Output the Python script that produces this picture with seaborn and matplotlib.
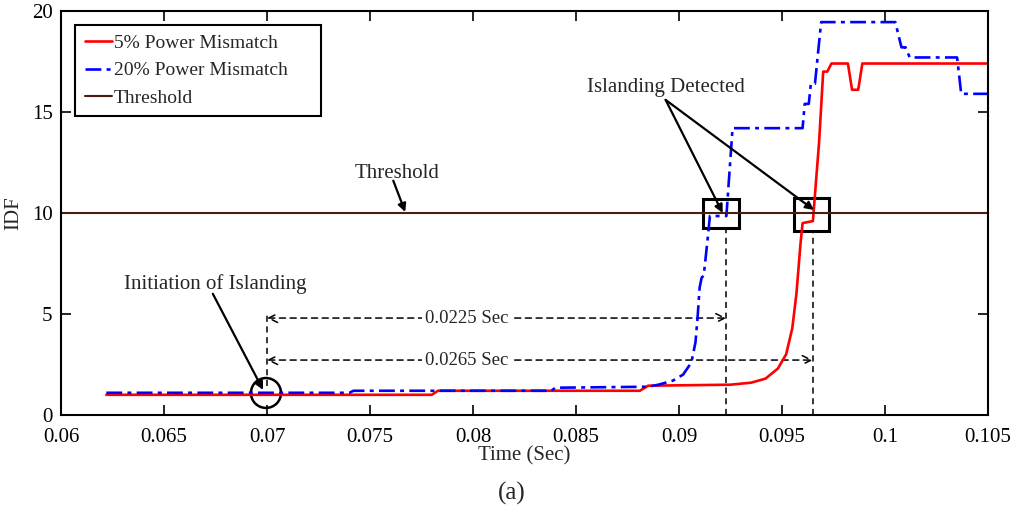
import numpy as np
import pandas as pd
import seaborn as sns
import matplotlib
matplotlib.use("Agg")
import matplotlib.pyplot as plt
from matplotlib.patches import Rectangle, Ellipse, FancyArrowPatch

# ---- data ----
t_5 = [0.0622, 0.0780, 0.0783, 0.0881, 0.0885, 0.0925, 0.0935, 0.0942, 0.0948,
       0.0952, 0.0955, 0.0957, 0.0959, 0.0960, 0.0965, 0.0968, 0.0970, 0.0972,
       0.0974, 0.0982, 0.0984, 0.0987, 0.0989, 0.1050]
idf_5 = [1.0, 1.0, 1.2, 1.2, 1.45, 1.5, 1.6, 1.8, 2.3,
         3.0, 4.3, 6.0, 8.5, 9.5, 9.6, 13.5, 17.0, 17.0,
         17.4, 17.4, 16.1, 16.1, 17.4, 17.4]

t_20 = [0.0622, 0.0740, 0.0742, 0.0838, 0.0840, 0.0885, 0.0890, 0.0897, 0.0902,
        0.0906, 0.0908, 0.0909, 0.0910, 0.0911, 0.0912, 0.0914, 0.0915, 0.0923,
        0.0926, 0.0960, 0.0961, 0.0963, 0.0964, 0.0966, 0.0969, 0.1005, 0.1008,
        0.1010, 0.1012, 0.1035, 0.1037, 0.1050]
idf_20 = [1.1, 1.1, 1.2, 1.2, 1.35, 1.4, 1.5, 1.7, 2.0,
          2.6, 3.6, 4.8, 6.3, 6.8, 6.9, 8.8, 9.85, 9.85,
          14.2, 14.2, 15.4, 15.4, 16.4, 16.4, 19.45, 19.45, 18.2,
          18.2, 17.7, 17.7, 15.9, 15.9]

t_thr = [0.06, 0.105]
idf_thr = [10, 10]

series_names = ["5% Power Mismatch", "20% Power Mismatch", "Threshold"]
x_ticks = [0.06, 0.065, 0.07, 0.075, 0.08, 0.085, 0.09, 0.095, 0.1, 0.105]
x_ticklabels = ["0.06", "0.065", "0.07", "0.075", "0.08", "0.085", "0.09", "0.095", "0.1", "0.105"]
y_ticks = [0, 5, 10, 15, 20]

t_start = 0.07
t_det_20 = 0.0923
t_det_5 = 0.0965
label_20 = "0.0225 Sec"
label_5 = "0.0265 Sec"

# ---- style ----
sns.set_style("ticks")
plt.rcParams["font.family"] = ["Liberation Serif", "DejaVu Serif"]

fig = plt.figure(figsize=(10.14, 5.14), dpi=100)
ax = fig.add_axes([61 / 1014, 1 - 415 / 514, 927 / 1014, 404 / 514])

df5 = pd.DataFrame({"t": t_5, "idf": idf_5})
df20 = pd.DataFrame({"t": t_20, "idf": idf_20})
dft = pd.DataFrame({"t": t_thr, "idf": idf_thr})

sns.lineplot(data=df5, x="t", y="idf", ax=ax, color="#ff0000", linewidth=1.9,
             estimator=None, sort=False, label=series_names[0])
sns.lineplot(data=df20, x="t", y="idf", ax=ax, color="#0000ff", linewidth=1.9,
             estimator=None, sort=False, label=series_names[1])
sns.lineplot(data=dft, x="t", y="idf", ax=ax, color="#4a1c12", linewidth=1.5,
             estimator=None, sort=False, label=series_names[2])
ax.lines[1].set_dashes([6, 2, 1.5, 2])

ax.set_xlim(0.06, 0.105)
ax.set_ylim(0, 20)
ax.set_xticks(x_ticks)
ax.set_xticklabels(x_ticklabels)
ax.set_yticks(y_ticks)
ax.tick_params(direction="in", length=7, width=1.2, top=True, right=True,
               labelsize=15, colors="black")
ax.tick_params(axis="x", pad=9)
ax.tick_params(axis="y", pad=6)
for s in ax.spines.values():
    s.set_linewidth(1.5)
    s.set_color("black")
ax.set_xlabel("Time (Sec)", fontsize=15, labelpad=0)
ax.set_ylabel("IDF", fontsize=15, labelpad=6)

leg = ax.legend(loc="upper left", bbox_to_anchor=(0.0151, 0.5, 0.2654, 0.466),
                mode="expand", borderaxespad=0,
                fontsize=14, frameon=True, fancybox=False, handlelength=1.4,
                handletextpad=0.1, labelspacing=0.5, borderpad=0.5)
leg.get_frame().set_edgecolor("black")
leg.get_frame().set_linewidth(1.5)
leg.get_frame().set_alpha(1)

# ---- annotations ----
def arrow(tail, head, ms=12):
    ax.annotate("", xy=head, xytext=tail,
                arrowprops=dict(arrowstyle="-|>", color="black", lw=1.6,
                                mutation_scale=ms, shrinkA=0, shrinkB=0))

ax.text(0.07632, 11.98, "Threshold", fontsize=15, ha="center", va="center")
arrow((0.07613, 11.6), (0.07671, 10.05))

ax.text(0.06747, 6.5, "Initiation of Islanding", fontsize=15, ha="center", va="center")
arrow((0.06737, 6.0), (0.06981, 1.24))
ax.add_patch(Ellipse((0.06995, 1.09), 0.00146, 1.48, fill=False, ec="black", lw=1.8))

ax.text(0.08935, 16.19, "Islanding Detected", fontsize=15, ha="center", va="center")
arrow((0.08935, 15.6), (0.09212, 10.0))
arrow((0.08935, 15.6), (0.09655, 10.15))

ax.add_patch(Rectangle((0.09115, 9.26), 0.00176, 1.43, fill=False, ec="black", lw=2.2))
ax.add_patch(Rectangle((0.09557, 9.11), 0.00170, 1.63, fill=False, ec="black", lw=2.2))

dash_kw = dict(color="black", lw=1.1, linestyle=(0, (4, 3)))
ax.plot([t_det_20, t_det_20], [0, 9.26], **dash_kw)
ax.plot([t_det_5, t_det_5], [0, 9.11], **dash_kw)
ax.plot([t_start, t_start], [1.45, 5.05], **dash_kw)

for tend, yy, lab in [(t_det_20, 4.8, label_20), (t_det_5, 2.72, label_5)]:
    arr = FancyArrowPatch((t_start, yy), (tend, yy), arrowstyle="<->",
                          mutation_scale=16, color="black", lw=1.1,
                          linestyle=(0, (4, 3)), shrinkA=0, shrinkB=0)
    ax.add_patch(arr)
    ax.text(0.0797, yy, lab, fontsize=13.5, ha="center", va="center",
            bbox=dict(facecolor="white", edgecolor="none", pad=2))

fig.text(512 / 1014, 1 - 493 / 514, "(a)", fontsize=18, ha="center", va="center")

fig.savefig("out.png", dpi=100, facecolor="white")
